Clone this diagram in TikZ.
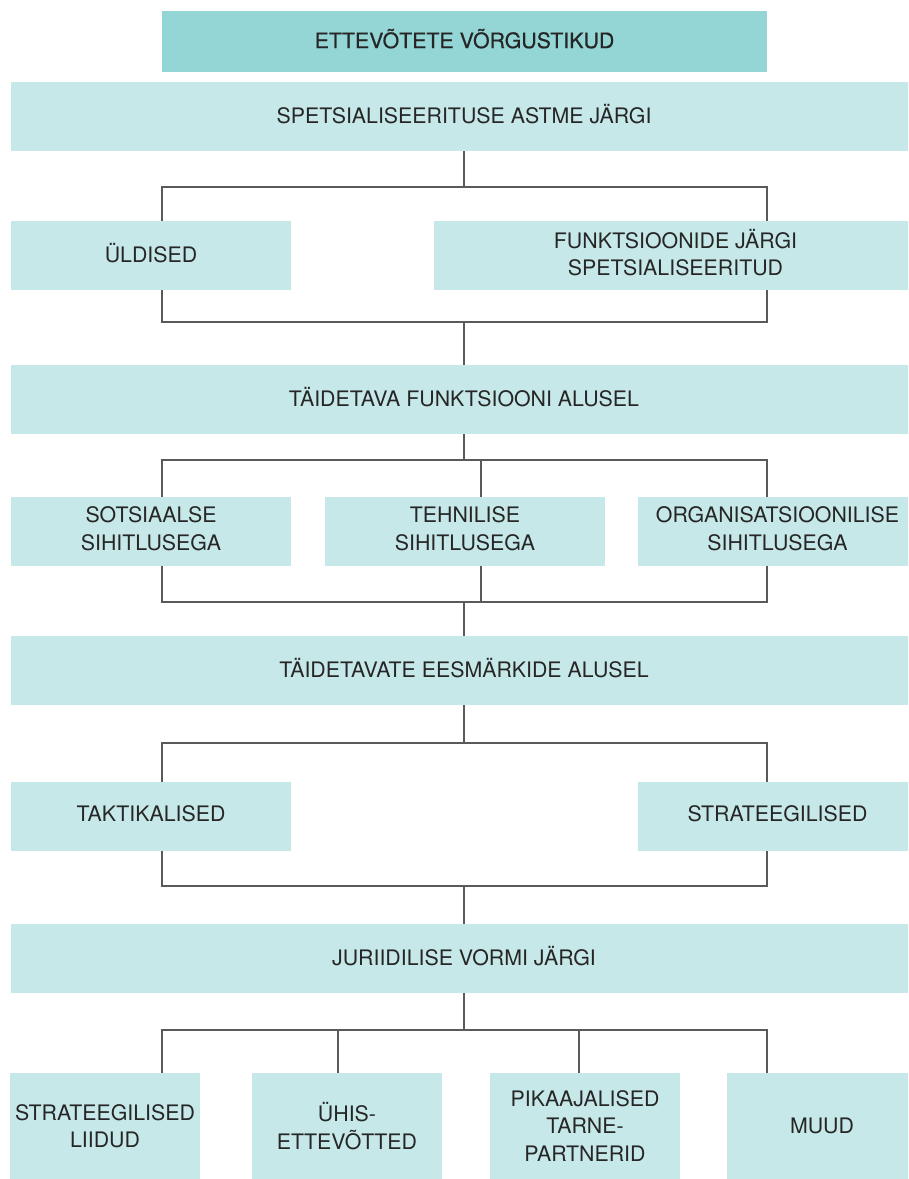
\documentclass[tikz,border=0pt]{standalone}
\usepackage{fontspec}
\setmainfont{TeX Gyre Heros}
\newfontfamily\titlefont[FakeBold=0.6]{TeX Gyre Heros}
\definecolor{headfill}{HTML}{94D5D6}
\definecolor{boxfill}{HTML}{C7E8E8}
\definecolor{txt}{HTML}{262626}
\definecolor{linegray}{HTML}{5A5A5A}
\begin{document}
\begin{tikzpicture}[x=0.75pt,y=-0.75pt,
  box/.style={fill=boxfill, inner sep=0pt, align=center, text=txt,
    font=\fontsize{16}{20.5}\selectfont},
  sz/.style 2 args={minimum width={#1*0.75pt}, minimum height={#2*0.75pt}},
  % a depth strut on the last line sets the text slightly above centre
  lift/.style={execute at end node={\rule[-4.5pt]{0pt}{0pt}}},
  head/.style={box, fill=headfill, font=\titlefont\fontsize{16}{20}\selectfont},
  conn/.style={draw=linegray, line width=0.8pt}]
\useasboundingbox (0,0) rectangle (908,1179);
\clip (0,0) rectangle (908,1179);

% bus x-positions
\coordinate (xl) at (162,0);
\coordinate (xr) at (767,0);
\coordinate (xm) at (481,0);
\coordinate (xa) at (338,0);
\coordinate (xb) at (579,0);

% title and category rows
\node[head, lift, sz={605}{61}] (top) at (464.5,41.5) {ETTEVÕTETE VÕRGUSTIKUD};
\node[box, lift, sz={906}{69}] (r1) at (464,116.5) {SPETSIALISEERITUSE ASTME JÄRGI};
\node[box, lift, sz={906}{69}] (r2) at (464,399.5) {TÄIDETAVA FUNKTSIOONI ALUSEL};
\node[box, lift, sz={906}{69}] (r3) at (464,670.5) {TÄIDETAVATE EESMÄRKIDE ALUSEL};
\node[box, lift, sz={906}{69}] (r4) at (464,958.5) {JURIIDILISE VORMI JÄRGI};

% level 1
\node[box, lift, sz={280}{69}] (b11) at (151,255.5) {ÜLDISED};
\node[box, lift, sz={483}{69}] (b12) at (675.5,255.5) {FUNKTSIOONIDE JÄRGI\\SPETSIALISEERITUD};

% level 2
\node[box, lift, sz={280}{69}] (b21) at (151,531.5) {SOTSIAALSE\\SIHITLUSEGA};
\node[box, lift, sz={280}{69}] (b22) at (465,531.5) {TEHNILISE\\SIHITLUSEGA};
\node[box, lift, sz={279}{69}] (b23) at (777.5,531.5) {ORGANISATSIOONILISE\\SIHITLUSEGA};

% level 3
\node[box, lift, sz={280}{69}] (b31) at (151,816.5) {TAKTIKALISED};
\node[box, lift, sz={279}{69}] (b32) at (777.5,816.5) {STRATEEGILISED};

% level 4
\node[box, sz={190}{106}] (b41) at (105,1126) {STRATEEGILISED\\LIIDUD};
\node[box, sz={190}{106}] (b42) at (347,1126) {ÜHIS-\\ETTEVÕTTED};
\node[box, sz={190}{106}] (b43) at (585,1126) {PIKAAJALISED\\TARNE-\\PARTNERID};
\node[box, sz={190}{106}] (b44) at (822,1126) {MUUD};

% bus junctions
\coordinate (h1) at (464,187);
\coordinate (h2) at (464,322);
\coordinate (h3) at (464,460);
\coordinate (h4) at (464,602);
\coordinate (h5) at (464,743);
\coordinate (h6) at (464,886);
\coordinate (h7) at (464,1030);

% connectors: block 1
\draw[conn] (r1.south) -- (h1);
\draw[conn] (b11.north -| xl) |- (h1 -| xr) -- (b12.north -| xr);
\draw[conn] (b11.south -| xl) |- (h2 -| xr) -- (b12.south -| xr);
\draw[conn] (h2) -- (r2.north);

% connectors: block 2
\draw[conn] (r2.south) -- (h3);
\draw[conn] (b21.north -| xl) |- (h3 -| xr) -- (b23.north -| xr);
\draw[conn] (h3 -| xm) -- (b22.north -| xm);
\draw[conn] (b21.south -| xl) |- (h4 -| xr) -- (b23.south -| xr);
\draw[conn] (b22.south -| xm) -- (h4 -| xm);
\draw[conn] (h4) -- (r3.north);

% connectors: block 3
\draw[conn] (r3.south) -- (h5);
\draw[conn] (b31.north -| xl) |- (h5 -| xr) -- (b32.north -| xr);
\draw[conn] (b31.south -| xl) |- (h6 -| xr) -- (b32.south -| xr);
\draw[conn] (h6) -- (r4.north);

% connectors: block 4
\draw[conn] (r4.south) -- (h7);
\draw[conn] (b41.north -| xl) |- (h7 -| xr) -- (b44.north -| xr);
\draw[conn] (h7 -| xa) -- (b42.north -| xa);
\draw[conn] (h7 -| xb) -- (b43.north -| xb);
\end{tikzpicture}
\end{document}
